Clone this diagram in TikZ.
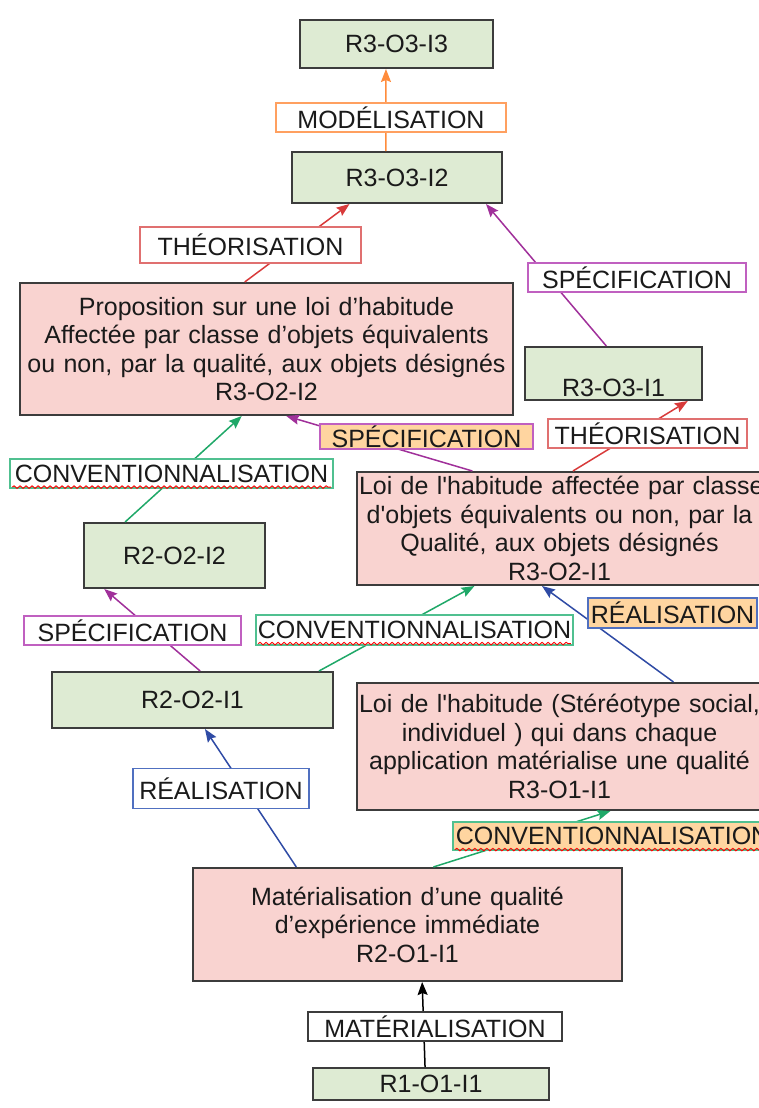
\documentclass[tikz,border=0pt]{standalone}
\usepackage{fontspec}
\setmainfont{Liberation Sans}
\usetikzlibrary{calc,arrows.meta,decorations.pathmorphing}
\definecolor{gfill}{HTML}{DEEBD3}
\definecolor{pfill}{HTML}{F9D3D0}
\definecolor{ofill}{HTML}{FFD5A0}
\definecolor{bord}{HTML}{3C3C3C}
\definecolor{txt}{HTML}{1A1A1A}
\definecolor{corange}{HTML}{FF8C3C}
\definecolor{cred}{HTML}{D83A3A}
\definecolor{cpurple}{HTML}{A0309A}
\definecolor{cgreen}{HTML}{1FA868}
\definecolor{cblue}{HTML}{2F4BA5}
\definecolor{lorange}{HTML}{FFA060}
\definecolor{lred}{HTML}{E07070}
\definecolor{lpurple}{HTML}{C060C0}
\definecolor{lgreen}{HTML}{50C090}
\definecolor{lblue}{HTML}{5070C0}
\begin{document}
\begin{tikzpicture}[x=1pt,y=-1pt,
  font=\fontsize{25}{28.5}\selectfont, text=txt,
  box/.style={draw=bord, line width=2pt, inner sep=0pt, align=center},
  gbox/.style={box, fill=gfill},
  pbox/.style={box, fill=pfill, inner xsep=2pt},
  lab/.style={line width=1.6pt, fill=white, inner sep=0pt},
  arr/.style={line width=1.5pt, -{Stealth[length=13pt,width=10pt,inset=2pt]}},
  wavy/.style={draw=red, line width=0.9pt, decorate, decoration={snake, segment length=6pt, amplitude=1.3pt}}
]
\useasboundingbox (0,0) rectangle (758,1108);

% boxes
\node[gbox, minimum width=193pt, minimum height=48pt] (r3o3i3) at (396.5,44) {R3-O3-I3};
\node[gbox, minimum width=210pt, minimum height=51pt] (r3o3i2) at (397,177.5) {R3-O3-I2};
\node[pbox, text width=489pt, minimum height=132pt] (prop) at (266.5,349)
  {\mbox{Proposition sur une loi d’habitude}\\\mbox{Affectée par classe d’objets équivalents}\\\mbox{ou non, par la qualité, aux objets désignés}\\R3-O2-I2};
\node[gbox, minimum width=177pt, minimum height=53pt] (r3o3i1) at (613.5,373.5) {\raisebox{-22.8pt}[0pt][0pt]{R3-O3-I1}};
\node[pbox, text width=401pt, minimum height=113pt] (r3o2i1) at (559.5,528.5)
  {\mbox{Loi de l\textquotesingle habitude affectée par classe}\\\mbox{d\textquotesingle objets équivalents ou non, par la}\\\mbox{Qualité, aux objets désignés}\\R3-O2-I1};
\node[gbox, minimum width=181pt, minimum height=65pt] (r2o2i2) at (174.5,555.5) {R2-O2-I2};
\node[gbox, minimum width=281pt, minimum height=56pt] (r2o2i1) at (192.5,700) {R2-O2-I1};
\node[pbox, text width=401pt, minimum height=127pt] (r3o1i1) at (559.5,746.5)
  {\mbox{Loi de l\textquotesingle habitude (Stéréotype social,}\\\mbox{individuel ) qui dans chaque}\\\mbox{application matérialise une qualité}\\R3-O1-I1};
\node[pbox, text width=425pt, minimum height=113pt] (r2o1i1) at (407.5,924.5)
  {\mbox{Matérialisation d’une qualité}\\\mbox{d’expérience immédiate}\\R2-O1-I1};
\node[gbox, minimum width=236pt, minimum height=32pt] (r1o1i1) at (431,1084) {R1-O1-I1};

% connectors
\draw[arr, draw=corange] ($(r3o3i2.north west)!0.448!(r3o3i2.north east)$) -- ($(r3o3i3.south west)!0.446!(r3o3i3.south east)$);
\draw[arr, draw=cred] ($(prop.north west)!0.456!(prop.north east)$) -- ($(r3o3i2.south west)!0.276!(r3o3i2.south east)$);
\draw[arr, draw=cpurple] ($(r3o3i1.north west)!0.46!(r3o3i1.north east)$) -- ($(r3o3i2.south west)!0.92!(r3o3i2.south east)$);
\draw[arr, draw=cpurple] ($(r3o2i1.north west)!0.286!(r3o2i1.north east)$) -- ($(prop.south west)!0.54!(prop.south east)$);
\draw[arr, draw=cred] ($(r3o2i1.north west)!0.533!(r3o2i1.north east)$) -- ($(r3o3i1.south west)!0.915!(r3o3i1.south east)$);
\draw[arr, draw=cgreen] ($(r2o2i2.north west)!0.23!(r2o2i2.north east)$) -- ($(prop.south west)!0.45!(prop.south east)$);
\draw[arr, draw=cpurple] ($(r2o2i1.north west)!0.527!(r2o2i1.north east)$) -- ($(r2o2i2.south west)!0.116!(r2o2i2.south east)$);
\draw[arr, draw=cgreen] ($(r2o2i1.north west)!0.947!(r2o2i1.north east)$) -- ($(r3o2i1.south west)!0.291!(r3o2i1.south east)$);
\draw[arr, draw=cblue] ($(r3o1i1.north west)!0.78!(r3o1i1.north east)$) -- ($(r3o2i1.south west)!0.457!(r3o2i1.south east)$);
\draw[arr, draw=cgreen] ($(r2o1i1.north west)!0.56!(r2o1i1.north east)$) -- ($(r3o1i1.south west)!0.625!(r3o1i1.south east)$);
\draw[arr, draw=cblue] ($(r2o1i1.north west)!0.242!(r2o1i1.north east)$) -- ($(r2o2i1.south west)!0.544!(r2o2i1.south east)$);
\draw[arr, draw=black] ($(r1o1i1.north west)!0.475!(r1o1i1.north east)$) -- ($(r2o1i1.south west)!0.534!(r2o1i1.south east)$);

% labels
\node[lab, draw=lorange, minimum width=230pt, minimum height=29pt] (lmod) at (391,117.5) {MODÉLISATION};
\node[lab, draw=lred, minimum width=221pt, minimum height=36pt] (ltheoa) at (250.5,245) {THÉORISATION};
\node[lab, draw=lpurple, minimum width=218pt, minimum height=29pt] (lspeca) at (637,277.5) {SPÉCIFICATION};
\node[lab, draw=lpurple, fill=ofill, minimum width=213pt, minimum height=25pt] (lspecb) at (426.5,436.5) {SPÉCIFICATION};
\node[lab, draw=lred, minimum width=199pt, minimum height=29pt] (ltheob) at (647.5,433.5) {THÉORISATION};
\node[lab, draw=lgreen, minimum width=323pt, minimum height=29pt] (lconva) at (171.5,473.5) {CONVENTIONNALISATION};
\node[lab, draw=lpurple, minimum width=217pt, minimum height=29pt] (lspecc) at (132.5,630.5) {SPÉCIFICATION};
\node[lab, draw=lgreen, minimum width=317pt, minimum height=30pt] (lconvb) at (414.5,630) {CONVENTIONNALISATION};
\node[lab, draw=lblue, fill=ofill, minimum width=169pt, minimum height=30pt] (lreala) at (672.5,613) {RÉALISATION};
\node[lab, draw=lblue, minimum width=176pt, minimum height=40pt] (lrealb) at (221,788.5) {RÉALISATION};
\node[lab, draw=lgreen, fill=ofill, minimum height=28pt, inner xsep=3pt, anchor=west] (lconvc) at (452,836) {CONVENTIONNALISATION};
\node[lab, draw=bord, minimum width=254pt, minimum height=29pt] (lmat) at (435,1026.5) {MATÉRIALISATION};

% spell-check underlines
\draw[wavy] ($(lconva.base west)+(3,5)$) -- ($(lconva.base east)+(-3,5)$);
\draw[wavy] ($(lconvb.base west)+(3,5)$) -- ($(lconvb.base east)+(-3,5)$);
\draw[wavy] ($(lconvc.base west)+(3,5)$) -- ($(lconvc.base east)+(-3,5)$);
\end{tikzpicture}
\end{document}
